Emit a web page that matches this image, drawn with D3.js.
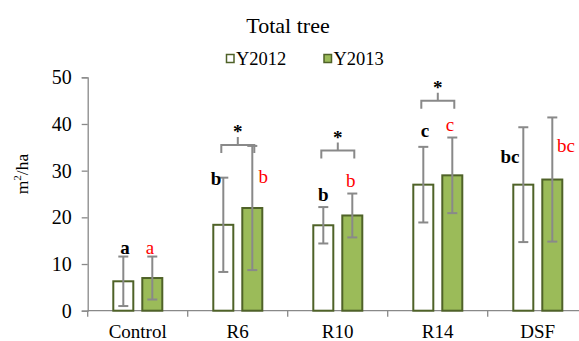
<!DOCTYPE html>
<html>
<head>
<meta charset="utf-8">
<script src="https://cdn.jsdelivr.net/npm/d3@7"></script>
<style>
  html, body { margin: 0; padding: 0; background: #fff; }
  svg { display: block; }
  svg text { font-family: "Liberation Serif", "Times New Roman", serif; }
</style>
</head>
<body>
<svg id="chart" width="579" height="341"></svg>
<script>
// Basal area by treatment, two survey years
const categories = ["Control", "R6", "R10", "R14", "DSF"];
const seriesNames = ["Y2012", "Y2013"];
const values2012 = [6.3, 18.4, 18.3, 27.0, 27.0];
const values2013 = [7.0, 22.0, 20.4, 29.0, 28.1];
const errors2012 = [5.3, 10.1, 3.9, 8.1, 12.3];
const errors2013 = [4.6, 13.3, 4.7, 8.1, 13.3];
const letters2012 = ["a", "b", "b", "c", "bc"];
const letters2013 = ["a", "b", "b", "c", "bc"];
const yearDifference = [false, true, true, true, false];
const yTicks = [0, 10, 20, 30, 40, 50];

// Letter anchors (value units for the baseline, pixel nudge from bar centre)
const letterAnchor2012 = [[12.1, 1.7], [26.9, -7.3], [23.4, 0], [37.3, 1.7], [31.6, -13.3]];
const letterAnchor2013 = [[12.1, -2.3], [27.4, 11], [26.6, -1.6], [38.4, -2.3], [34.1, 13.7]];
// Level of the significance bracket, in value units
const bracketLevel = [null, 35.5, 34.3, 45.0, null];

const svg = d3.select("#chart");
const serif = "Liberation Serif, Times New Roman, serif";
const grey = "#898989";
const darkGreen = "#4f6228";
const fillGreen = "#9bbb59";

const plotLeft = 87.7, plotTop = 77.3, plotBottom = 310.7;

const y = d3.scaleLinear().domain([0, 50]).range([plotBottom, plotTop]);
const x0 = d3.scaleBand().domain(categories).range([plotLeft, plotLeft + 500]).padding(0);
const x1 = d3.scaleBand().domain(seriesNames).range([25.6, 74.6]).paddingInner(0.31);

const rows = categories.map((c, i) => ({
  cat: c,
  bars: [
    { s: "Y2012", v: values2012[i], e: errors2012[i], letter: letters2012[i], anchor: letterAnchor2012[i] },
    { s: "Y2013", v: values2013[i], e: errors2013[i], letter: letters2013[i], anchor: letterAnchor2013[i] }
  ],
  sig: yearDifference[i],
  level: bracketLevel[i]
}));

// Title
svg.append("text")
  .attr("x", 288).attr("y", 32.5)
  .attr("text-anchor", "middle")
  .attr("font-family", serif)
  .attr("font-size", 22)
  .text("Total tree");

// Legend
const legend = svg.append("g");
[["Y2012", "#fff", 226.5], ["Y2013", fillGreen, 324]].forEach(([name, fill, lx]) => {
  legend.append("rect")
    .attr("x", lx).attr("y", 54.5).attr("width", 7.5).attr("height", 8)
    .attr("fill", fill).attr("stroke", darkGreen).attr("stroke-width", 1.5);
  legend.append("text")
    .attr("x", lx + 9.5).attr("y", 64.5)
    .attr("font-family", serif)
    .attr("font-size", 18.5)
    .text(name);
});

// Y axis
const yAxis = svg.append("g")
  .attr("transform", `translate(${plotLeft},0)`)
  .call(d3.axisLeft(y).tickValues(yTicks).tickSize(6).tickPadding(10).tickSizeOuter(6));
yAxis.attr("font-family", serif);
yAxis.selectAll("path, line").attr("stroke", grey).attr("stroke-width", 1.3);
yAxis.selectAll("text").attr("font-size", 20).attr("font-family", serif).attr("fill", "#000");

// X axis: ticks at the category boundaries
const boundaries = categories.map(c => x0(c)).concat([x0(categories[categories.length - 1]) + x0.bandwidth()]);
const xAxis = svg.append("g").attr("transform", `translate(0,${plotBottom})`);
xAxis.append("line")
  .attr("x1", plotLeft).attr("x2", plotLeft + 500)
  .attr("stroke", grey).attr("stroke-width", 1.3);
xAxis.selectAll("line.tick").data(boundaries).join("line")
  .attr("class", "tick")
  .attr("x1", d => d).attr("x2", d => d).attr("y1", 0).attr("y2", 6)
  .attr("stroke", grey).attr("stroke-width", 1.3);
xAxis.selectAll("text").data(categories).join("text")
  .attr("x", d => x0(d) + x0.bandwidth() / 2)
  .attr("y", 27.5)
  .attr("text-anchor", "middle")
  .attr("font-family", serif)
  .attr("font-size", 19)
  .text(d => d);

// Y axis title
const yTitle = svg.append("text")
  .attr("transform", "translate(28,174) rotate(-90)")
  .attr("text-anchor", "middle")
  .attr("font-family", serif)
  .attr("font-size", 17.5);
yTitle.append("tspan").text("m");
yTitle.append("tspan").attr("font-size", 11).attr("dy", -7).text("2");
yTitle.append("tspan").attr("dy", 7).text("/ha");

// Bars, error bars and letters
const groups = svg.selectAll("g.cat").data(rows).join("g")
  .attr("class", "cat")
  .attr("transform", d => `translate(${x0(d.cat)},0)`);

groups.selectAll("rect.bar").data(d => d.bars).join("rect")
  .attr("class", "bar")
  .attr("x", d => x1(d.s))
  .attr("y", d => y(d.v))
  .attr("width", x1.bandwidth())
  .attr("height", d => y(0) - y(d.v))
  .attr("fill", d => d.s === "Y2012" ? "#fff" : fillGreen)
  .attr("stroke", darkGreen)
  .attr("stroke-width", 2);

const cx = d => x1(d.s) + x1.bandwidth() / 2;
const err = groups.selectAll("g.err").data(d => d.bars).join("g")
  .attr("class", "err")
  .attr("stroke", grey).attr("stroke-width", 2);
err.append("line")
  .attr("x1", cx).attr("x2", cx)
  .attr("y1", d => y(d.v + d.e)).attr("y2", d => y(d.v - d.e));
err.append("line")
  .attr("x1", d => cx(d) - 5).attr("x2", d => cx(d) + 5)
  .attr("y1", d => y(d.v + d.e)).attr("y2", d => y(d.v + d.e));
err.append("line")
  .attr("x1", d => cx(d) - 5).attr("x2", d => cx(d) + 5)
  .attr("y1", d => y(d.v - d.e)).attr("y2", d => y(d.v - d.e));

groups.selectAll("text.letter").data(d => d.bars).join("text")
  .attr("class", "letter")
  .attr("x", d => cx(d) + d.anchor[1])
  .attr("y", d => y(d.anchor[0]))
  .attr("text-anchor", "middle")
  .attr("font-family", serif)
  .attr("font-size", 19)
  .attr("font-weight", d => d.s === "Y2012" ? "bold" : "normal")
  .attr("fill", d => d.s === "Y2012" ? "#000" : "#ff0000")
  .text(d => d.letter);

// Significance brackets between years
const sigGroups = groups.filter(d => d.sig);
sigGroups.each(function (d) {
  const g = d3.select(this);
  const left = cx(d.bars[0]) - 2;
  const right = cx(d.bars[1]) + 2;
  const mid = (left + right) / 2;
  const ly = y(d.level);
  g.append("path")
    .attr("d", `M${left},${ly + 8}V${ly}H${right}V${ly + 8}M${mid},${ly}V${ly - 8}`)
    .attr("fill", "none").attr("stroke", grey).attr("stroke-width", 2);
  g.append("text")
    .attr("x", mid).attr("y", ly - 7)
    .attr("text-anchor", "middle")
    .attr("font-family", serif)
    .attr("font-size", 19).attr("font-weight", "bold")
    .text("*");
});
</script>
</body>
</html>
